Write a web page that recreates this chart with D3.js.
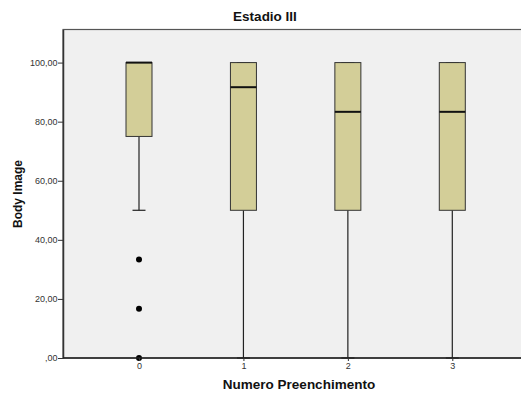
<!DOCTYPE html>
<html>
<head>
<meta charset="utf-8">
<script src="https://cdn.jsdelivr.net/npm/d3@7"></script>
<style>
  html, body { margin: 0; padding: 0; background: #fff; }
  svg { display: block; font-family: Arial, "Liberation Sans", sans-serif; }
</style>
</head>
<body>
<svg id="chart" width="521" height="393"></svg>
<script>
// Groups on the x axis
const categories = ["0", "1", "2", "3"];
// Box statistics per group
const lowerWhisker = [50, 0, 0, 0];
const q1 = [75, 50, 50, 50];
const median = [100, 91.67, 83.33, 83.33];
const q3 = [100, 100, 100, 100];
const upperWhisker = [100, 100, 100, 100];
// Outlying points (group, value)
const outlierGroup = ["0", "0", "0"];
const outlierValue = [33.33, 16.67, 0];
// Y tick values
const yTicks = [0, 20, 40, 60, 80, 100];

const svg = d3.select("#chart");
const margin = { left: 63, top: 29.5, right: 0, bottom: 35 };
const W = 521, H = 393;
const plotBottom = 358;

const x = d3.scalePoint()
  .domain(categories)
  .range([139, 452.3]);

const y = d3.scaleLinear()
  .domain([0, 111.2])
  .range([plotBottom, margin.top]);

const fmt = v => v === 0 ? ",00" : d3.format(".2f")(v).replace(".", ",");

// Plot background
svg.append("rect")
  .attr("x", margin.left).attr("y", margin.top)
  .attr("width", W - margin.left + 2).attr("height", plotBottom - margin.top)
  .attr("fill", "#f0f0f0")
  .attr("stroke", "#555").attr("stroke-width", 1.2);

const boxW = 26;
const data = categories.map((c, i) => ({
  c, lo: lowerWhisker[i], q1: q1[i], med: median[i], q3: q3[i], hi: upperWhisker[i]
}));

const g = svg.append("g");
const grp = g.selectAll("g.box").data(data).join("g").attr("class", "box");

// Whisker stems
grp.append("line")
  .attr("x1", d => x(d.c)).attr("x2", d => x(d.c))
  .attr("y1", d => y(d.lo)).attr("y2", d => y(d.q1))
  .attr("stroke", "#222").attr("stroke-width", 1.2);
grp.append("line")
  .attr("x1", d => x(d.c)).attr("x2", d => x(d.c))
  .attr("y1", d => y(d.hi)).attr("y2", d => y(d.q3))
  .attr("stroke", "#222").attr("stroke-width", 1.2);
// Whisker caps
grp.append("line")
  .attr("x1", d => x(d.c) - boxW / 4).attr("x2", d => x(d.c) + boxW / 4)
  .attr("y1", d => y(d.lo)).attr("y2", d => y(d.lo))
  .attr("stroke", "#222").attr("stroke-width", 1.2);
grp.append("line")
  .attr("x1", d => x(d.c) - boxW / 4).attr("x2", d => x(d.c) + boxW / 4)
  .attr("y1", d => y(d.hi)).attr("y2", d => y(d.hi))
  .attr("stroke", "#222").attr("stroke-width", 1.2);
// Boxes
grp.append("rect")
  .attr("x", d => x(d.c) - boxW / 2).attr("width", boxW)
  .attr("y", d => y(d.q3)).attr("height", d => y(d.q1) - y(d.q3))
  .attr("fill", "#d3ce98").attr("stroke", "#333").attr("stroke-width", 1);
// Medians
grp.append("line")
  .attr("x1", d => x(d.c) - boxW / 2).attr("x2", d => x(d.c) + boxW / 2)
  .attr("y1", d => y(d.med)).attr("y2", d => y(d.med))
  .attr("stroke", "#111").attr("stroke-width", 2);

// Outliers
g.selectAll("circle").data(outlierValue).join("circle")
  .attr("cx", (d, i) => x(outlierGroup[i]))
  .attr("cy", d => y(d))
  .attr("r", 3)
  .attr("fill", "#000");

// Y axis
const yAxis = svg.append("g")
  .attr("transform", `translate(${margin.left},0)`)
  .call(d3.axisLeft(y).tickValues(yTicks).tickFormat(fmt).tickSize(5).tickSizeOuter(0));
yAxis.select(".domain").attr("stroke", "#333").attr("stroke-width", 1.5);
yAxis.selectAll(".tick line").attr("stroke", "#333");
yAxis.selectAll(".tick text")
  .attr("font-size", 9).attr("fill", "#333")
  .attr("font-family", "Arial, 'Liberation Sans', sans-serif")
  .attr("x", -5.5);

// X axis
const xAxis = svg.append("g")
  .attr("transform", `translate(0,${plotBottom})`)
  .call(d3.axisBottom(x).tickSize(3).tickSizeOuter(0));
xAxis.select(".domain").attr("d", `M${margin.left},0H${W}`).attr("stroke", "#222").attr("stroke-width", 1.5);
xAxis.selectAll(".tick line").attr("stroke", "#333");
xAxis.selectAll(".tick text")
  .attr("font-size", 9).attr("fill", "#333")
  .attr("font-family", "Arial, 'Liberation Sans', sans-serif")
  .attr("y", 5);

// Title and axis titles
svg.append("text")
  .attr("x", 265).attr("y", 20.5)
  .attr("text-anchor", "middle")
  .attr("font-size", 13.5).attr("font-weight", "bold").attr("fill", "#111")
  .text("Estadio III");

svg.append("text")
  .attr("x", 299).attr("y", 389)
  .attr("text-anchor", "middle")
  .attr("font-size", 13.5).attr("font-weight", "bold").attr("fill", "#111")
  .text("Numero Preenchimento");

svg.append("text")
  .attr("transform", "translate(22,194) rotate(-90)")
  .attr("text-anchor", "middle")
  .attr("font-size", 12).attr("font-weight", "bold").attr("fill", "#111")
  .text("Body Image");
</script>
</body>
</html>
